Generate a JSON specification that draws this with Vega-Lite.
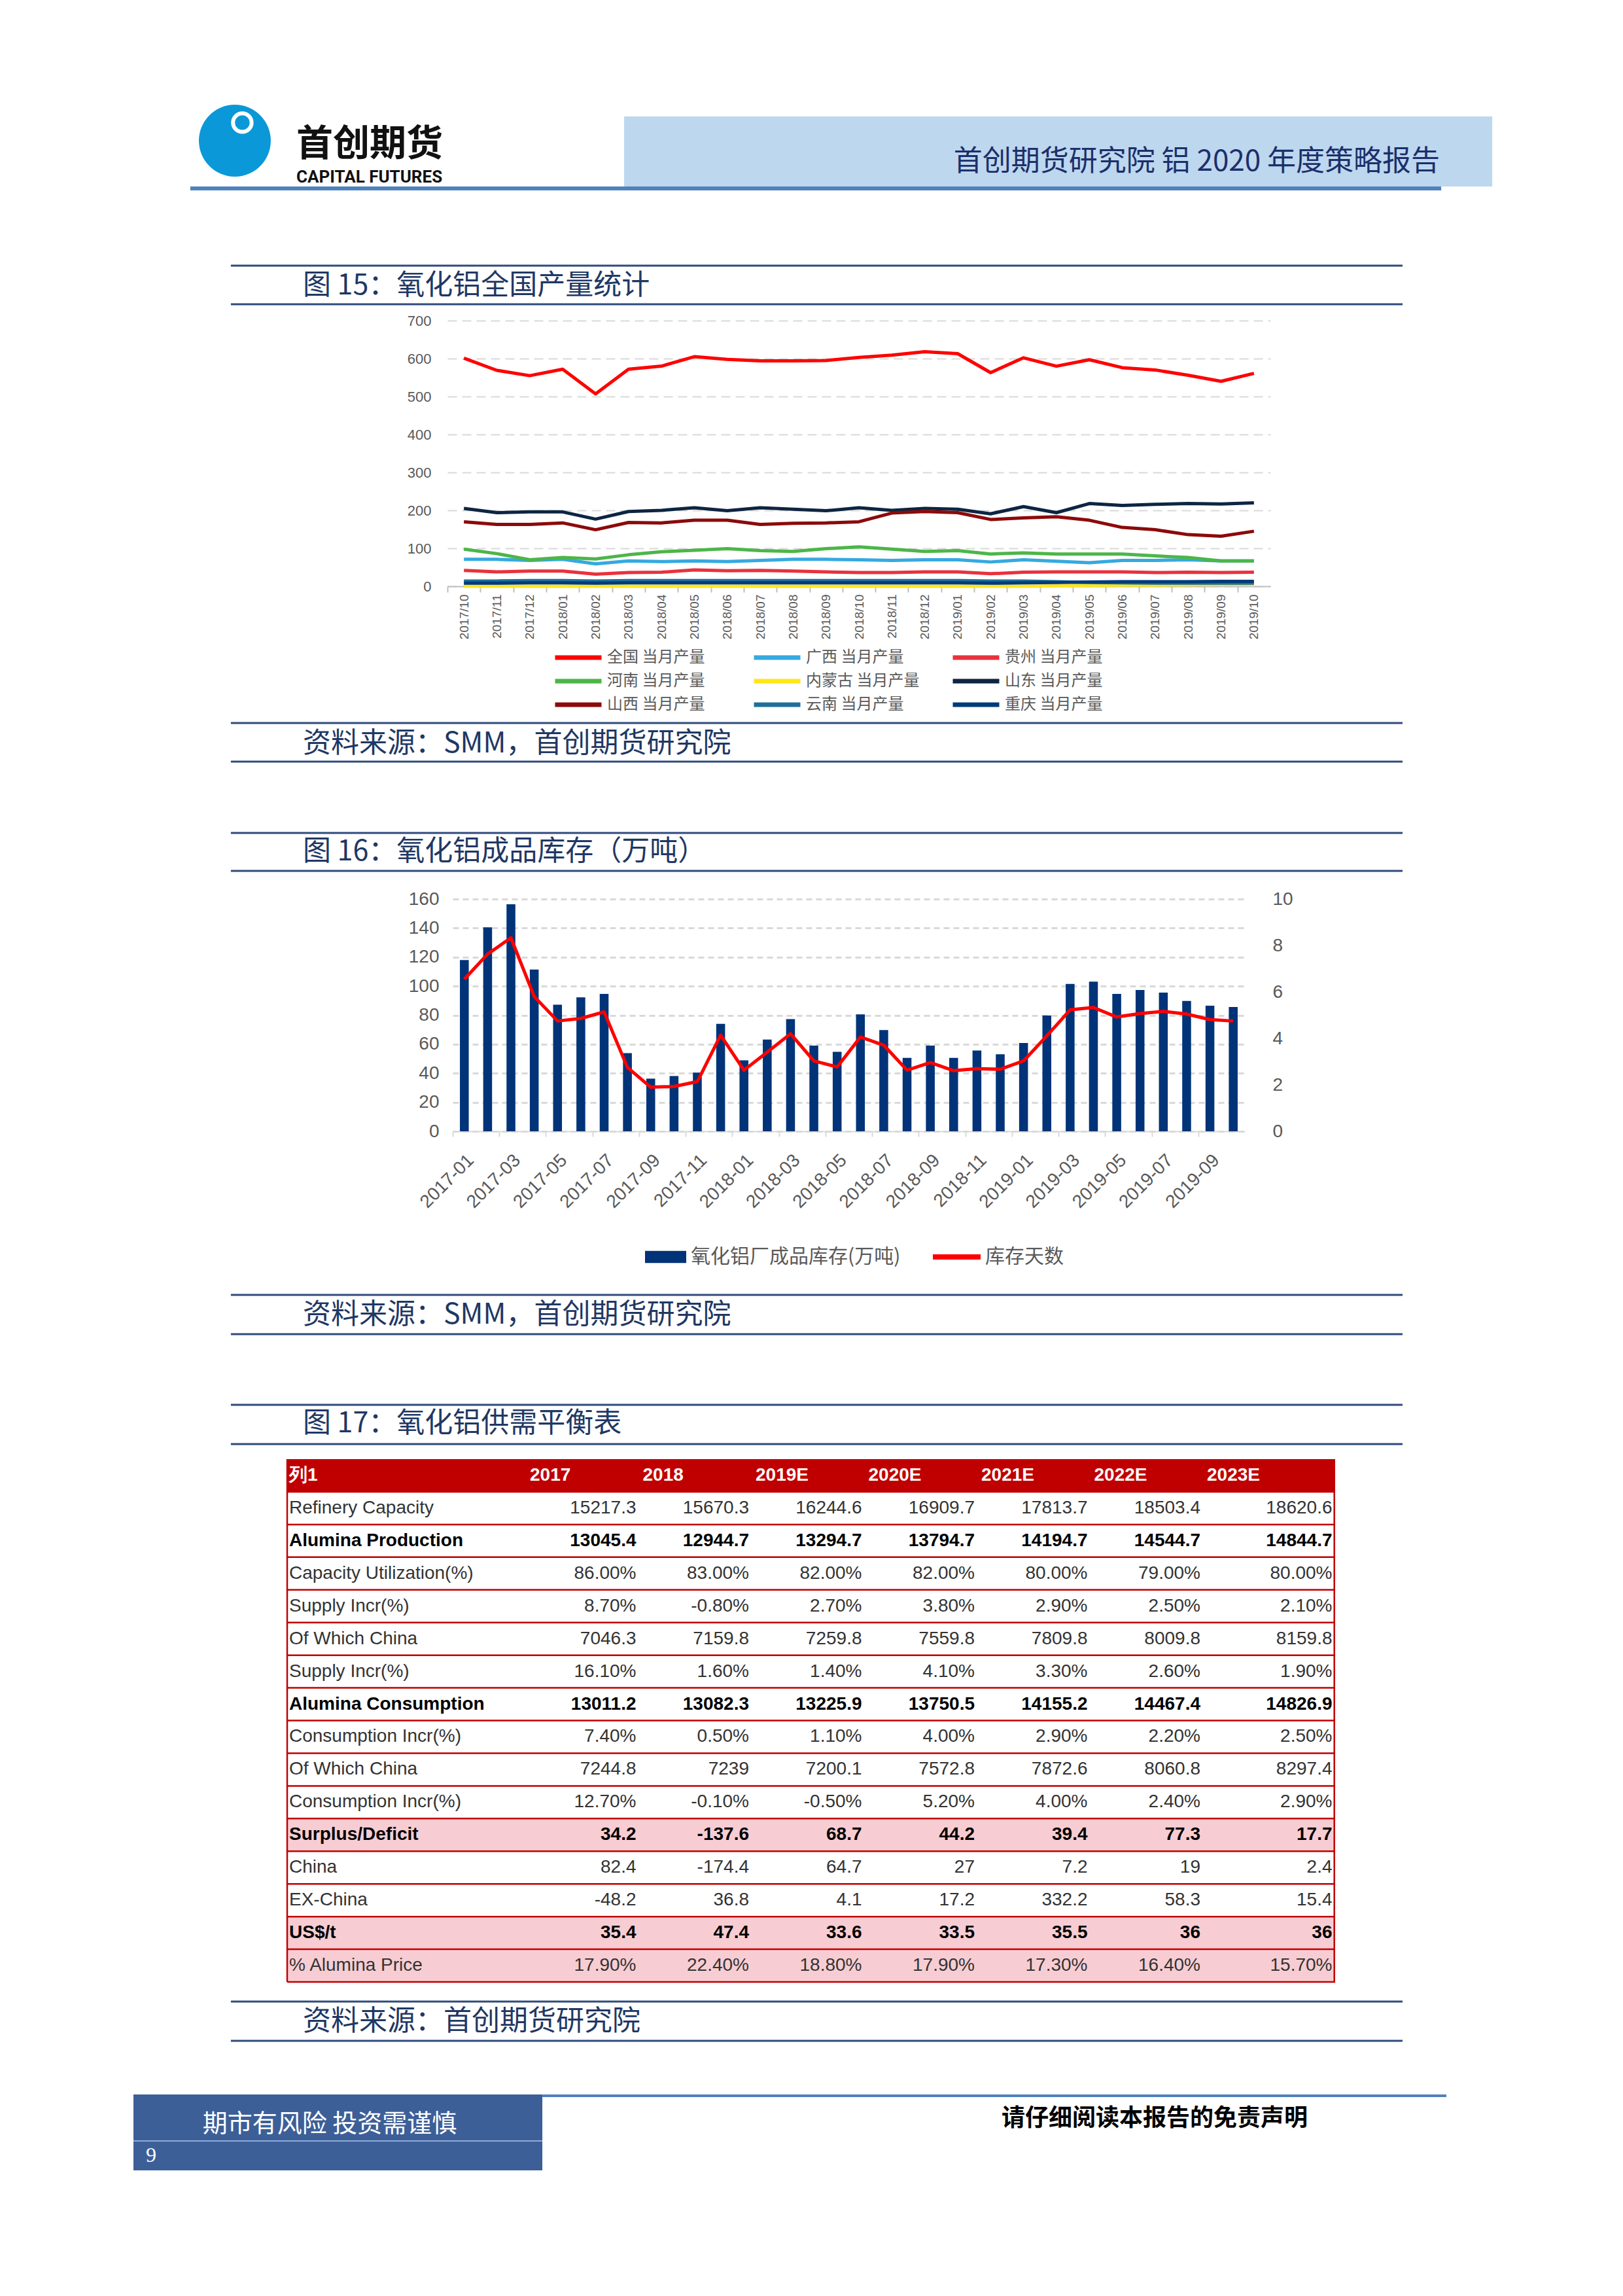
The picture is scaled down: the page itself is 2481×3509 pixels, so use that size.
{
  "$schema": "https://vega.github.io/schema/vega-lite/v6.json",
  "background": "white",
  "padding": {"left": 203, "top": 150, "right": 0, "bottom": 0},
  "bounds": "flush",
  "spacing": 0,
  "resolve": {"scale": {"color": "independent", "stroke": "independent", "x": "independent", "y": "independent"}},
  "config": {
    "view": {"stroke": null},
    "text": {"font": "Noto Sans CJK SC"}
  },
  "vconcat": [
    {
      "width": 2080, "height": 340,
      "data": {"values": [{"k": 1}]},
      "layer": [
        {"mark": {"type": "rect", "color": "#bdd7ee"}, "encoding": {"x": {"datum": 0.3606, "type": "quantitative", "scale": {"domain": [0, 1], "nice": false, "zero": false}, "axis": null}, "x2": {"datum": 0.9986}, "y": {"datum": 0.0824, "type": "quantitative", "scale": {"domain": [0, 1], "nice": false, "zero": false, "reverse": true}, "axis": null}, "y2": {"datum": 0.3971}}},
        {"mark": {"type": "rule", "color": "#4f81bd", "strokeWidth": 6}, "encoding": {"x": {"datum": 0.0418, "type": "quantitative", "scale": {"domain": [0, 1], "nice": false, "zero": false}, "axis": null}, "x2": {"datum": 0.9611}, "y": {"datum": 0.4059, "type": "quantitative", "scale": {"domain": [0, 1], "nice": false, "zero": false, "reverse": true}, "axis": null}}},
        {"mark": {"type": "point", "shape": "circle", "filled": true, "color": "#0b98d8", "opacity": 1, "size": 12076}, "encoding": {"x": {"datum": 0.0745, "type": "quantitative", "scale": {"domain": [0, 1], "nice": false, "zero": false}, "axis": null}, "y": {"datum": 0.1912, "type": "quantitative", "scale": {"domain": [0, 1], "nice": false, "zero": false, "reverse": true}, "axis": null}}},
        {"mark": {"type": "point", "shape": "circle", "filled": false, "color": "#ffffff", "opacity": 1, "strokeWidth": 6, "size": 804}, "encoding": {"x": {"datum": 0.0800, "type": "quantitative", "scale": {"domain": [0, 1], "nice": false, "zero": false}, "axis": null}, "y": {"datum": 0.1100, "type": "quantitative", "scale": {"domain": [0, 1], "nice": false, "zero": false, "reverse": true}, "axis": null}}},
        {"mark": {"type": "text", "align": "left", "baseline": "middle", "font": "Noto Sans CJK SC", "fontSize": 56, "fontWeight": "bold", "color": "#111111"}, "encoding": {"x": {"datum": 0.1197, "type": "quantitative", "scale": {"domain": [0, 1], "nice": false, "zero": false}, "axis": null}, "y": {"datum": 0.2088, "type": "quantitative", "scale": {"domain": [0, 1], "nice": false, "zero": false, "reverse": true}, "axis": null}, "text": {"value": "首创期货"}}},
        {"mark": {"type": "text", "align": "left", "baseline": "middle", "font": "Roboto", "fontSize": 26, "fontWeight": "bold", "color": "#111111"}, "encoding": {"x": {"datum": 0.1197, "type": "quantitative", "scale": {"domain": [0, 1], "nice": false, "zero": false}, "axis": null}, "y": {"datum": 0.3559, "type": "quantitative", "scale": {"domain": [0, 1], "nice": false, "zero": false, "reverse": true}, "axis": null}, "text": {"value": "CAPITAL FUTURES"}}},
        {"mark": {"type": "text", "align": "right", "baseline": "middle", "font": "Noto Sans CJK SC", "fontSize": 44, "color": "#1c2f6b"}, "encoding": {"x": {"datum": 0.9601, "type": "quantitative", "scale": {"domain": [0, 1], "nice": false, "zero": false}, "axis": null}, "y": {"datum": 0.2882, "type": "quantitative", "scale": {"domain": [0, 1], "nice": false, "zero": false, "reverse": true}, "axis": null}, "text": {"value": "首创期货研究院 铝 2020 年度策略报告"}}},
        {"mark": {"type": "rule", "color": "#2f4b7c", "strokeWidth": 3}, "encoding": {"x": {"datum": 0.0716, "type": "quantitative", "scale": {"domain": [0, 1], "nice": false, "zero": false}, "axis": null}, "x2": {"datum": 0.9327}, "y": {"datum": 0.7529, "type": "quantitative", "scale": {"domain": [0, 1], "nice": false, "zero": false, "reverse": true}, "axis": null}}},
        {"mark": {"type": "rule", "color": "#2f4b7c", "strokeWidth": 3}, "encoding": {"x": {"datum": 0.0716, "type": "quantitative", "scale": {"domain": [0, 1], "nice": false, "zero": false}, "axis": null}, "x2": {"datum": 0.9327}, "y": {"datum": 0.9265, "type": "quantitative", "scale": {"domain": [0, 1], "nice": false, "zero": false, "reverse": true}, "axis": null}}},
        {"mark": {"type": "text", "align": "left", "baseline": "middle", "font": "Noto Sans CJK SC", "fontSize": 43, "color": "#1f3864"}, "encoding": {"x": {"datum": 0.1245, "type": "quantitative", "scale": {"domain": [0, 1], "nice": false, "zero": false}, "axis": null}, "y": {"datum": 0.8441, "type": "quantitative", "scale": {"domain": [0, 1], "nice": false, "zero": false, "reverse": true}, "axis": null}, "text": {"value": "图 15：氧化铝全国产量统计"}}}
      ]
    },
    {
      "width": 1738, "height": 406,
      "data": {"values": [
        {"month": "2017/10", "全国 当月产量": 601, "广西 当月产量": 71, "贵州 当月产量": 42, "河南 当月产量": 98, "内蒙古 当月产量": 0, "山东 当月产量": 205, "山西 当月产量": 170, "云南 当月产量": 14, "重庆 当月产量": 8},
        {"month": "2017/11", "全国 当月产量": 569, "广西 当月产量": 71, "贵州 当月产量": 38, "河南 当月产量": 86, "内蒙古 当月产量": 0, "山东 当月产量": 194, "山西 当月产量": 163, "云南 当月产量": 14, "重庆 当月产量": 8},
        {"month": "2017/12", "全国 当月产量": 555, "广西 当月产量": 68, "贵州 当月产量": 40, "河南 当月产量": 70, "内蒙古 当月产量": 0, "山东 当月产量": 196, "山西 当月产量": 163, "云南 当月产量": 15, "重庆 当月产量": 9},
        {"month": "2018/01", "全国 当月产量": 572, "广西 当月产量": 71, "贵州 当月产量": 40, "河南 当月产量": 76, "内蒙古 当月产量": 0, "山东 当月产量": 196, "山西 当月产量": 167, "云南 当月产量": 15, "重庆 当月产量": 9},
        {"month": "2018/02", "全国 当月产量": 507, "广西 当月产量": 59, "贵州 当月产量": 32, "河南 当月产量": 72, "内蒙古 当月产量": 0, "山东 当月产量": 177, "山西 当月产量": 149, "云南 当月产量": 14, "重庆 当月产量": 8},
        {"month": "2018/03", "全国 当月产量": 572, "广西 当月产量": 67, "贵州 当月产量": 36, "河南 当月产量": 83, "内蒙古 当月产量": 0, "山东 当月产量": 197, "山西 当月产量": 168, "云南 当月产量": 15, "重庆 当月产量": 9},
        {"month": "2018/04", "全国 当月产量": 580, "广西 当月产量": 65, "贵州 当月产量": 37, "河南 当月产量": 91, "内蒙古 当月产量": 0, "山东 当月产量": 200, "山西 当月产量": 167, "云南 当月产量": 15, "重庆 当月产量": 9},
        {"month": "2018/05", "全国 当月产量": 605, "广西 当月产量": 67, "贵州 当月产量": 43, "河南 当月产量": 95, "内蒙古 当月产量": 0, "山东 当月产量": 207, "山西 当月产量": 174, "云南 当月产量": 15, "重庆 当月产量": 9},
        {"month": "2018/06", "全国 当月产量": 598, "广西 当月产量": 65, "贵州 当月产量": 41, "河南 当月产量": 99, "内蒙古 当月产量": 0, "山东 当月产量": 199, "山西 当月产量": 174, "云南 当月产量": 15, "重庆 当月产量": 9},
        {"month": "2018/07", "全国 当月产量": 594, "广西 当月产量": 68, "贵州 当月产量": 42, "河南 当月产量": 94, "内蒙古 当月产量": 0, "山东 当月产量": 207, "山西 当月产量": 163, "云南 当月产量": 15, "重庆 当月产量": 9},
        {"month": "2018/08", "全国 当月产量": 594, "广西 当月产量": 71, "贵州 当月产量": 40, "河南 当月产量": 92, "内蒙古 当月产量": 0, "山东 当月产量": 203, "山西 当月产量": 166, "云南 当月产量": 15, "重庆 当月产量": 9},
        {"month": "2018/09", "全国 当月产量": 595, "广西 当月产量": 71, "贵州 当月产量": 38, "河南 当月产量": 99, "内蒙古 当月产量": 0, "山东 当月产量": 199, "山西 当月产量": 167, "云南 当月产量": 15, "重庆 当月产量": 9},
        {"month": "2018/10", "全国 当月产量": 603, "广西 当月产量": 70, "贵州 当月产量": 36, "河南 当月产量": 104, "内蒙古 当月产量": 0, "山东 当月产量": 207, "山西 当月产量": 170, "云南 当月产量": 15, "重庆 当月产量": 9},
        {"month": "2018/11", "全国 当月产量": 609, "广西 当月产量": 68, "贵州 当月产量": 36, "河南 当月产量": 98, "内蒙古 当月产量": 0, "山东 当月产量": 200, "山西 当月产量": 193, "云南 当月产量": 15, "重庆 当月产量": 9},
        {"month": "2018/12", "全国 当月产量": 618, "广西 当月产量": 70, "贵州 当月产量": 38, "河南 当月产量": 92, "内蒙古 当月产量": 0, "山东 当月产量": 205, "山西 当月产量": 197, "云南 当月产量": 15, "重庆 当月产量": 9},
        {"month": "2019/01", "全国 当月产量": 613, "广西 当月产量": 70, "贵州 当月产量": 38, "河南 当月产量": 94, "内蒙古 当月产量": 0, "山东 当月产量": 203, "山西 当月产量": 194, "云南 当月产量": 15, "重庆 当月产量": 9},
        {"month": "2019/02", "全国 当月产量": 563, "广西 当月产量": 64, "贵州 当月产量": 33, "河南 当月产量": 85, "内蒙古 当月产量": 0, "山东 当月产量": 191, "山西 当月产量": 176, "云南 当月产量": 14, "重庆 当月产量": 8},
        {"month": "2019/03", "全国 当月产量": 602, "广西 当月产量": 70, "贵州 当月产量": 37, "河南 当月产量": 88, "内蒙古 当月产量": 0, "山东 当月产量": 210, "山西 当月产量": 180, "云南 当月产量": 14, "重庆 当月产量": 9},
        {"month": "2019/04", "全国 当月产量": 580, "广西 当月产量": 66, "贵州 当月产量": 38, "河南 当月产量": 85, "内蒙古 当月产量": 1, "山东 当月产量": 194, "山西 当月产量": 183, "云南 当月产量": 12, "重庆 当月产量": 10},
        {"month": "2019/05", "全国 当月产量": 597, "广西 当月产量": 62, "贵州 当月产量": 38, "河南 当月产量": 85, "内蒙古 当月产量": 2, "山东 当月产量": 218, "山西 当月产量": 174, "云南 当月产量": 10, "重庆 当月产量": 11},
        {"month": "2019/06", "全国 当月产量": 576, "广西 当月产量": 68, "贵州 当月产量": 38, "河南 当月产量": 85, "内蒙古 当月产量": 3, "山东 当月产量": 213, "山西 当月产量": 155, "云南 当月产量": 9, "重庆 当月产量": 12},
        {"month": "2019/07", "全国 当月产量": 570, "广西 当月产量": 68, "贵州 当月产量": 36, "河南 当月产量": 80, "内蒙古 当月产量": 3, "山东 当月产量": 216, "山西 当月产量": 149, "云南 当月产量": 8, "重庆 当月产量": 12},
        {"month": "2019/08", "全国 当月产量": 556, "广西 当月产量": 70, "贵州 当月产量": 37, "河南 当月产量": 76, "内蒙古 当月产量": 4, "山东 当月产量": 218, "山西 当月产量": 136, "云南 当月产量": 8, "重庆 当月产量": 12},
        {"month": "2019/09", "全国 当月产量": 540, "广西 当月产量": 67, "贵州 当月产量": 36, "河南 当月产量": 67, "内蒙古 当月产量": 5, "山东 当月产量": 217, "山西 当月产量": 132, "云南 当月产量": 8, "重庆 当月产量": 13},
        {"month": "2019/10", "全国 当月产量": 561, "广西 当月产量": 67, "贵州 当月产量": 37, "河南 当月产量": 67, "内蒙古 当月产量": 6, "山东 当月产量": 220, "山西 当月产量": 145, "云南 当月产量": 8, "重庆 当月产量": 13}
      ]},
      "transform": [{"fold": ["全国 当月产量", "广西 当月产量", "贵州 当月产量", "河南 当月产量", "内蒙古 当月产量", "山东 当月产量", "山西 当月产量", "云南 当月产量", "重庆 当月产量"], "as": ["series", "value"]}],
      "mark": {"type": "line", "strokeWidth": 5, "strokeJoin": "round"},
      "encoding": {
        "x": {"field": "month", "type": "ordinal", "bandPosition": 0.5, "scale": {"type": "band", "range": [480, 1738], "paddingInner": 0, "paddingOuter": 0},
          "axis": {"title": null, "labelAngle": 270, "labelFontSize": 19, "labelFont": "Liberation Sans", "labelColor": "#595959", "labelPadding": 3, "bandPosition": 0.5, "tickOffset": -25.16, "labelOffset": 25.16, "tickSize": 9, "tickWidth": 2, "tickColor": "#bfbfbf", "domainColor": "#bfbfbf", "domainWidth": 2, "grid": false}},
        "y": {"field": "value", "type": "quantitative", "scale": {"domain": [0, 700], "nice": false},
          "axis": {"title": null, "offset": -480, "values": [0, 100, 200, 300, 400, 500, 600, 700], "grid": true, "gridDash": [14, 8], "gridColor": "#d9d9d9", "gridWidth": 2, "domain": false, "ticks": false, "labelFontSize": 22, "labelFont": "Liberation Sans", "labelColor": "#595959", "labelPadding": 25}},
        "color": {"field": "series", "type": "nominal",
          "scale": {"domain": ["全国 当月产量", "广西 当月产量", "贵州 当月产量", "河南 当月产量", "内蒙古 当月产量", "山东 当月产量", "山西 当月产量", "云南 当月产量", "重庆 当月产量"],
                    "range": ["#ff0000", "#35a9e0", "#e8323c", "#4cb648", "#ffe61a", "#0d2541", "#8c0a0a", "#1f6f99", "#003a7a"]},
          "legend": {"title": null, "orient": "none", "direction": "horizontal", "legendX": 641, "legendY": 503, "columns": 3, "gridAlign": "all", "columnPadding": 47, "rowPadding": 12, "clipHeight": 24, "padding": 0, "symbolType": "stroke", "symbolSize": 5041, "symbolStrokeWidth": 7, "labelOffset": 5, "labelFontSize": 24, "labelFont": "Noto Sans CJK SC", "labelColor": "#595959", "labelLimit": 0}}
      }
    },
    {
      "width": 2080, "height": 478,
      "data": {"values": [{"k": 1}]},
      "layer": [
        {"mark": {"type": "rule", "color": "#2f4b7c", "strokeWidth": 3}, "encoding": {"x": {"datum": 0.0716, "type": "quantitative", "scale": {"domain": [0, 1], "nice": false, "zero": false}, "axis": null}, "x2": {"datum": 0.9327}, "y": {"datum": 0.4372, "type": "quantitative", "scale": {"domain": [0, 1], "nice": false, "zero": false, "reverse": true}, "axis": null}}},
        {"mark": {"type": "rule", "color": "#2f4b7c", "strokeWidth": 3}, "encoding": {"x": {"datum": 0.0716, "type": "quantitative", "scale": {"domain": [0, 1], "nice": false, "zero": false}, "axis": null}, "x2": {"datum": 0.9327}, "y": {"datum": 0.5607, "type": "quantitative", "scale": {"domain": [0, 1], "nice": false, "zero": false, "reverse": true}, "axis": null}}},
        {"mark": {"type": "text", "align": "left", "baseline": "middle", "font": "Noto Sans CJK SC", "fontSize": 43, "color": "#1f3864"}, "encoding": {"x": {"datum": 0.1245, "type": "quantitative", "scale": {"domain": [0, 1], "nice": false, "zero": false}, "axis": null}, "y": {"datum": 0.5042, "type": "quantitative", "scale": {"domain": [0, 1], "nice": false, "zero": false, "reverse": true}, "axis": null}, "text": {"value": "资料来源：SMM，首创期货研究院"}}},
        {"mark": {"type": "rule", "color": "#2f4b7c", "strokeWidth": 3}, "encoding": {"x": {"datum": 0.0716, "type": "quantitative", "scale": {"domain": [0, 1], "nice": false, "zero": false}, "axis": null}, "x2": {"datum": 0.9327}, "y": {"datum": 0.7887, "type": "quantitative", "scale": {"domain": [0, 1], "nice": false, "zero": false, "reverse": true}, "axis": null}}},
        {"mark": {"type": "rule", "color": "#2f4b7c", "strokeWidth": 3}, "encoding": {"x": {"datum": 0.0716, "type": "quantitative", "scale": {"domain": [0, 1], "nice": false, "zero": false}, "axis": null}, "x2": {"datum": 0.9327}, "y": {"datum": 0.9100, "type": "quantitative", "scale": {"domain": [0, 1], "nice": false, "zero": false, "reverse": true}, "axis": null}}},
        {"mark": {"type": "text", "align": "left", "baseline": "middle", "font": "Noto Sans CJK SC", "fontSize": 43, "color": "#1f3864"}, "encoding": {"x": {"datum": 0.1245, "type": "quantitative", "scale": {"domain": [0, 1], "nice": false, "zero": false}, "axis": null}, "y": {"datum": 0.8494, "type": "quantitative", "scale": {"domain": [0, 1], "nice": false, "zero": false, "reverse": true}, "axis": null}, "text": {"value": "图 16：氧化铝成品库存（万吨）"}}}
      ]
    },
    {
      "width": 1699, "height": 355,
      "data": {"values": [
        {"month": "2017-01", "stock": 118.0, "days": 6.55},
        {"month": "2017-02", "stock": 140.5, "days": 7.63},
        {"month": "2017-03", "stock": 156.4, "days": 8.33},
        {"month": "2017-04", "stock": 111.4, "days": 5.80},
        {"month": "2017-05", "stock": 87.2, "days": 4.75},
        {"month": "2017-06", "stock": 92.3, "days": 4.86},
        {"month": "2017-07", "stock": 94.7, "days": 5.14},
        {"month": "2017-08", "stock": 53.9, "days": 2.75},
        {"month": "2017-09", "stock": 36.3, "days": 1.90},
        {"month": "2017-10", "stock": 38.1, "days": 1.93},
        {"month": "2017-11", "stock": 40.5, "days": 2.14},
        {"month": "2017-12", "stock": 74.0, "days": 4.14},
        {"month": "2018-01", "stock": 48.9, "days": 2.63},
        {"month": "2018-02", "stock": 63.2, "days": 3.41},
        {"month": "2018-03", "stock": 77.3, "days": 4.20},
        {"month": "2018-04", "stock": 59.0, "days": 3.03},
        {"month": "2018-05", "stock": 54.8, "days": 2.77},
        {"month": "2018-06", "stock": 80.6, "days": 4.06},
        {"month": "2018-07", "stock": 69.8, "days": 3.71},
        {"month": "2018-08", "stock": 50.6, "days": 2.63},
        {"month": "2018-09", "stock": 59.0, "days": 2.96},
        {"month": "2018-10", "stock": 50.6, "days": 2.61},
        {"month": "2018-11", "stock": 55.7, "days": 2.70},
        {"month": "2018-12", "stock": 53.1, "days": 2.67},
        {"month": "2019-01", "stock": 60.8, "days": 3.03},
        {"month": "2019-02", "stock": 79.8, "days": 4.11},
        {"month": "2019-03", "stock": 101.5, "days": 5.23},
        {"month": "2019-04", "stock": 103.1, "days": 5.33},
        {"month": "2019-05", "stock": 94.7, "days": 4.92},
        {"month": "2019-06", "stock": 97.3, "days": 5.07},
        {"month": "2019-07", "stock": 95.6, "days": 5.16},
        {"month": "2019-08", "stock": 89.8, "days": 5.05},
        {"month": "2019-09", "stock": 86.5, "days": 4.81},
        {"month": "2019-10", "stock": 85.6, "days": 4.75}
      ]},
      "encoding": {
        "x": {"field": "month", "type": "ordinal", "scale": {"type": "band", "range": [488, 1699], "paddingInner": 0.62, "paddingOuter": 0.31},
          "axis": {"title": null, "values": ["2017-01", "2017-03", "2017-05", "2017-07", "2017-09", "2017-11", "2018-01", "2018-03", "2018-05", "2018-07", "2018-09", "2018-11", "2019-01", "2019-03", "2019-05", "2019-07", "2019-09"],
            "labelAngle": -45, "labelFontSize": 28, "labelFont": "Liberation Sans", "labelColor": "#595959", "labelPadding": 22, "bandPosition": 0.5, "tickOffset": -17.81, "labelOffset": 17.81, "tickSize": 8, "tickWidth": 2, "tickColor": "#d9d9d9", "domainColor": "#d9d9d9", "domainWidth": 2, "grid": false}}
      },
      "layer": [
        {
          "mark": {"type": "bar"},
          "encoding": {
            "y": {"field": "stock", "type": "quantitative", "scale": {"domain": [0, 160], "nice": false},
              "axis": {"title": null, "offset": -488, "values": [0, 20, 40, 60, 80, 100, 120, 140, 160], "grid": true, "gridDash": [9, 6], "gridColor": "#d9d9d9", "gridWidth": 3, "domain": false, "ticks": false, "labelFontSize": 28, "labelFont": "Liberation Sans", "labelColor": "#595959", "labelPadding": 21}},
            "color": {"datum": "氧化铝厂成品库存(万吨)", "type": "nominal", "scale": {"range": ["#003378"]},
              "legend": {"title": null, "orient": "none", "legendX": 782, "legendY": 532, "clipHeight": 30, "padding": 0, "symbolType": "M-1,-0.29L1,-0.29L1,0.29L-1,0.29Z", "symbolSize": 3969, "symbolStrokeWidth": 0, "symbolOpacity": 1, "labelOffset": 7, "labelFontSize": 30, "labelFont": "Noto Sans CJK SC", "labelColor": "#595959", "labelLimit": 0}}
          }
        },
        {
          "mark": {"type": "line", "strokeWidth": 5, "strokeJoin": "round"},
          "encoding": {
            "y": {"field": "days", "type": "quantitative", "scale": {"domain": [0, 10], "nice": false},
              "axis": {"title": null, "orient": "right", "values": [0, 2, 4, 6, 8, 10], "grid": false, "domain": false, "ticks": false, "labelFontSize": 28, "labelFont": "Liberation Sans", "labelColor": "#595959", "labelPadding": 42}},
            "stroke": {"datum": "库存天数", "type": "nominal", "scale": {"range": ["#ff0000"]},
              "legend": {"title": null, "orient": "none", "legendX": 1218, "legendY": 532, "clipHeight": 30, "padding": 0, "symbolType": "stroke", "symbolSize": 5329, "symbolStrokeWidth": 8, "labelOffset": 3, "labelFontSize": 30, "labelFont": "Noto Sans CJK SC", "labelColor": "#595959", "labelLimit": 0}}
          }
        }
      ],
      "resolve": {"scale": {"y": "independent"}}
    },
    {
      "width": 2080, "height": 501,
      "data": {"values": [{"k": 1}]},
      "layer": [
        {"mark": {"type": "rule", "color": "#2f4b7c", "strokeWidth": 3}, "encoding": {"x": {"datum": 0.0716, "type": "quantitative", "scale": {"domain": [0, 1], "nice": false, "zero": false}, "axis": null}, "x2": {"datum": 0.9327}, "y": {"datum": 0.4990, "type": "quantitative", "scale": {"domain": [0, 1], "nice": false, "zero": false, "reverse": true}, "axis": null}}},
        {"mark": {"type": "rule", "color": "#2f4b7c", "strokeWidth": 3}, "encoding": {"x": {"datum": 0.0716, "type": "quantitative", "scale": {"domain": [0, 1], "nice": false, "zero": false}, "axis": null}, "x2": {"datum": 0.9327}, "y": {"datum": 0.6188, "type": "quantitative", "scale": {"domain": [0, 1], "nice": false, "zero": false, "reverse": true}, "axis": null}}},
        {"mark": {"type": "text", "align": "left", "baseline": "middle", "font": "Noto Sans CJK SC", "fontSize": 43, "color": "#1f3864"}, "encoding": {"x": {"datum": 0.1245, "type": "quantitative", "scale": {"domain": [0, 1], "nice": false, "zero": false}, "axis": null}, "y": {"datum": 0.5609, "type": "quantitative", "scale": {"domain": [0, 1], "nice": false, "zero": false, "reverse": true}, "axis": null}, "text": {"value": "资料来源：SMM，首创期货研究院"}}},
        {"mark": {"type": "rule", "color": "#2f4b7c", "strokeWidth": 3}, "encoding": {"x": {"datum": 0.0716, "type": "quantitative", "scale": {"domain": [0, 1], "nice": false, "zero": false}, "axis": null}, "x2": {"datum": 0.9327}, "y": {"datum": 0.8343, "type": "quantitative", "scale": {"domain": [0, 1], "nice": false, "zero": false, "reverse": true}, "axis": null}}},
        {"mark": {"type": "rule", "color": "#2f4b7c", "strokeWidth": 3}, "encoding": {"x": {"datum": 0.0716, "type": "quantitative", "scale": {"domain": [0, 1], "nice": false, "zero": false}, "axis": null}, "x2": {"datum": 0.9327}, "y": {"datum": 0.9541, "type": "quantitative", "scale": {"domain": [0, 1], "nice": false, "zero": false, "reverse": true}, "axis": null}}},
        {"mark": {"type": "text", "align": "left", "baseline": "middle", "font": "Noto Sans CJK SC", "fontSize": 43, "color": "#1f3864"}, "encoding": {"x": {"datum": 0.1245, "type": "quantitative", "scale": {"domain": [0, 1], "nice": false, "zero": false}, "axis": null}, "y": {"datum": 0.8922, "type": "quantitative", "scale": {"domain": [0, 1], "nice": false, "zero": false, "reverse": true}, "axis": null}, "text": {"value": "图 17：氧化铝供需平衡表"}}}
      ]
    },
    {
      "width": 1837, "height": 799,
      "data": {"values": [
        {"r": 0, "item": "列1", "2017": "2017", "2018": "2018", "2019E": "2019E", "2020E": "2020E", "2021E": "2021E", "2022E": "2022E", "2023E": "2023E"},
        {"r": 1, "item": "Refinery Capacity", "2017": "15217.3", "2018": "15670.3", "2019E": "16244.6", "2020E": "16909.7", "2021E": "17813.7", "2022E": "18503.4", "2023E": "18620.6"},
        {"r": 2, "item": "Alumina Production", "2017": "13045.4", "2018": "12944.7", "2019E": "13294.7", "2020E": "13794.7", "2021E": "14194.7", "2022E": "14544.7", "2023E": "14844.7"},
        {"r": 3, "item": "Capacity Utilization(%)", "2017": "86.00%", "2018": "83.00%", "2019E": "82.00%", "2020E": "82.00%", "2021E": "80.00%", "2022E": "79.00%", "2023E": "80.00%"},
        {"r": 4, "item": "Supply Incr(%)", "2017": "8.70%", "2018": "-0.80%", "2019E": "2.70%", "2020E": "3.80%", "2021E": "2.90%", "2022E": "2.50%", "2023E": "2.10%"},
        {"r": 5, "item": "Of Which China", "2017": "7046.3", "2018": "7159.8", "2019E": "7259.8", "2020E": "7559.8", "2021E": "7809.8", "2022E": "8009.8", "2023E": "8159.8"},
        {"r": 6, "item": "Supply Incr(%)", "2017": "16.10%", "2018": "1.60%", "2019E": "1.40%", "2020E": "4.10%", "2021E": "3.30%", "2022E": "2.60%", "2023E": "1.90%"},
        {"r": 7, "item": "Alumina Consumption", "2017": "13011.2", "2018": "13082.3", "2019E": "13225.9", "2020E": "13750.5", "2021E": "14155.2", "2022E": "14467.4", "2023E": "14826.9"},
        {"r": 8, "item": "Consumption Incr(%)", "2017": "7.40%", "2018": "0.50%", "2019E": "1.10%", "2020E": "4.00%", "2021E": "2.90%", "2022E": "2.20%", "2023E": "2.50%"},
        {"r": 9, "item": "Of Which China", "2017": "7244.8", "2018": "7239", "2019E": "7200.1", "2020E": "7572.8", "2021E": "7872.6", "2022E": "8060.8", "2023E": "8297.4"},
        {"r": 10, "item": "Consumption Incr(%)", "2017": "12.70%", "2018": "-0.10%", "2019E": "-0.50%", "2020E": "5.20%", "2021E": "4.00%", "2022E": "2.40%", "2023E": "2.90%"},
        {"r": 11, "item": "Surplus/Deficit", "2017": "34.2", "2018": "-137.6", "2019E": "68.7", "2020E": "44.2", "2021E": "39.4", "2022E": "77.3", "2023E": "17.7"},
        {"r": 12, "item": "China", "2017": "82.4", "2018": "-174.4", "2019E": "64.7", "2020E": "27", "2021E": "7.2", "2022E": "19", "2023E": "2.4"},
        {"r": 13, "item": "EX-China", "2017": "-48.2", "2018": "36.8", "2019E": "4.1", "2020E": "17.2", "2021E": "332.2", "2022E": "58.3", "2023E": "15.4"},
        {"r": 14, "item": "US$/t", "2017": "35.4", "2018": "47.4", "2019E": "33.6", "2020E": "33.5", "2021E": "35.5", "2022E": "36", "2023E": "36"},
        {"r": 15, "item": "% Alumina Price", "2017": "17.90%", "2018": "22.40%", "2019E": "18.80%", "2020E": "17.90%", "2021E": "17.30%", "2022E": "16.40%", "2023E": "15.70%"}
      ]},
      "layer": [
        {
          "layer": [
            {"transform": [{"filter": "datum.r === 0"}], "mark": {"type": "rect", "color": "#c00000"},
              "encoding": {"x": {"datum": 0.12793, "type": "quantitative", "scale": {"domain": [0, 1], "nice": false, "zero": false}, "axis": null}, "x2": {"datum": 1},
                "y": {"field": "r", "type": "ordinal", "scale": {"domain": [0, 1, 2, 3, 4, 5, 6, 7, 8, 9, 10, 11, 12, 13, 14, 15], "paddingInner": 0, "paddingOuter": 0}, "axis": null}}},
            {"transform": [{"filter": "datum.r === 11 || datum.r === 14 || datum.r === 15"}], "mark": {"type": "rect", "color": "#f7cdd3"},
              "encoding": {"x": {"datum": 0.12793, "type": "quantitative", "scale": {"domain": [0, 1], "nice": false, "zero": false}, "axis": null}, "x2": {"datum": 1},
                "y": {"field": "r", "type": "ordinal", "axis": null}}},
            {"transform": [{"filter": "datum.r >= 1"}], "mark": {"type": "rule", "color": "#c00000", "strokeWidth": 2.5},
              "encoding": {"x": {"datum": 0.12793, "type": "quantitative", "scale": {"domain": [0, 1], "nice": false, "zero": false}, "axis": null}, "x2": {"datum": 1},
                "y": {"field": "r", "type": "ordinal", "bandPosition": 0, "axis": null}}},
            {"transform": [{"filter": "datum.r === 15"}], "mark": {"type": "rule", "color": "#c00000", "strokeWidth": 2.5},
              "encoding": {"x": {"datum": 0.12793, "type": "quantitative", "scale": {"domain": [0, 1], "nice": false, "zero": false}, "axis": null}, "x2": {"datum": 1},
                "y": {"field": "r", "type": "ordinal", "bandPosition": 1, "axis": null}}},
            {"transform": [{"filter": "datum.r === 0"}], "mark": {"type": "rule", "color": "#c00000", "strokeWidth": 2.5},
              "encoding": {"x": {"datum": 0.12793, "type": "quantitative", "scale": {"domain": [0, 1], "nice": false, "zero": false}, "axis": null}}},
            {"transform": [{"filter": "datum.r === 0"}], "mark": {"type": "rule", "color": "#c00000", "strokeWidth": 2.5},
              "encoding": {"x": {"datum": 0.9993, "type": "quantitative", "scale": {"domain": [0, 1], "nice": false, "zero": false}, "axis": null}}},
            {"transform": [{"filter": "datum.r === 0"}],
              "mark": {"type": "text", "align": "left", "baseline": "middle", "font": "Liberation Sans", "fontSize": 28, "fontWeight": "bold", "color": "#ffffff"},
              "encoding": {"x": {"datum": 0.12956, "type": "quantitative", "scale": {"domain": [0, 1], "nice": false, "zero": false}, "axis": null}, "y": {"field": "r", "type": "ordinal", "axis": null}, "text": {"field": "item"}}},
            {"transform": [{"filter": "datum.r === 2 || datum.r === 7 || datum.r === 11 || datum.r === 14"}],
              "mark": {"type": "text", "align": "left", "baseline": "middle", "font": "Liberation Sans", "fontSize": 28, "fontWeight": "bold", "color": "#000000"},
              "encoding": {"x": {"datum": 0.12956, "type": "quantitative", "scale": {"domain": [0, 1], "nice": false, "zero": false}, "axis": null}, "y": {"field": "r", "type": "ordinal", "axis": null}, "text": {"field": "item"}}},
            {"transform": [{"filter": "datum.r >= 1 && datum.r !== 2 && datum.r !== 7 && datum.r !== 11 && datum.r !== 14"}],
              "mark": {"type": "text", "align": "left", "baseline": "middle", "font": "Liberation Sans", "fontSize": 28, "color": "#333333"},
              "encoding": {"x": {"datum": 0.12956, "type": "quantitative", "scale": {"domain": [0, 1], "nice": false, "zero": false}, "axis": null}, "y": {"field": "r", "type": "ordinal", "axis": null}, "text": {"field": "item"}}}
          ]
        },
        {
          "layer": [
            {"transform": [{"filter": "datum.r === 0"}, {"fold": ["2017", "2018", "2019E", "2020E", "2021E", "2022E", "2023E"], "as": ["col", "val"]}],
              "mark": {"type": "text", "align": "left", "baseline": "middle", "dx": 4, "font": "Liberation Sans", "fontSize": 28, "fontWeight": "bold", "color": "#ffffff"},
              "encoding": {"x": {"field": "col", "type": "nominal", "bandPosition": 0, "scale": {"type": "band", "domain": ["2017", "2018", "2019E", "2020E", "2021E", "2022E", "2023E"], "range": [602, 1809.5], "paddingInner": 0, "paddingOuter": 0}, "axis": null},
                "y": {"field": "r", "type": "ordinal", "axis": null}, "text": {"field": "val"}}},
            {"transform": [{"filter": "datum.r >= 1 && datum.r !== 2 && datum.r !== 7 && datum.r !== 11 && datum.r !== 14"}, {"fold": ["2017", "2018", "2019E", "2020E", "2021E", "2022E"], "as": ["col", "val"]}],
              "mark": {"type": "text", "align": "right", "baseline": "middle", "dx": -6, "font": "Liberation Sans", "fontSize": 28, "color": "#333333"},
              "encoding": {"x": {"field": "col", "type": "nominal", "bandPosition": 1}, "y": {"field": "r", "type": "ordinal", "axis": null}, "text": {"field": "val"}}},
            {"transform": [{"filter": "datum.r >= 1 && datum.r !== 2 && datum.r !== 7 && datum.r !== 11 && datum.r !== 14"}, {"fold": ["2023E"], "as": ["col", "val"]}],
              "mark": {"type": "text", "align": "right", "baseline": "middle", "dx": 23, "font": "Liberation Sans", "fontSize": 28, "color": "#333333"},
              "encoding": {"x": {"field": "col", "type": "nominal", "bandPosition": 1}, "y": {"field": "r", "type": "ordinal", "axis": null}, "text": {"field": "val"}}},
            {"transform": [{"filter": "datum.r === 2 || datum.r === 7 || datum.r === 11 || datum.r === 14"}, {"fold": ["2017", "2018", "2019E", "2020E", "2021E", "2022E"], "as": ["col", "val"]}],
              "mark": {"type": "text", "align": "right", "baseline": "middle", "dx": -6, "font": "Liberation Sans", "fontSize": 28, "fontWeight": "bold", "color": "#000000"},
              "encoding": {"x": {"field": "col", "type": "nominal", "bandPosition": 1}, "y": {"field": "r", "type": "ordinal", "axis": null}, "text": {"field": "val"}}},
            {"transform": [{"filter": "datum.r === 2 || datum.r === 7 || datum.r === 11 || datum.r === 14"}, {"fold": ["2023E"], "as": ["col", "val"]}],
              "mark": {"type": "text", "align": "right", "baseline": "middle", "dx": 23, "font": "Liberation Sans", "fontSize": 28, "fontWeight": "bold", "color": "#000000"},
              "encoding": {"x": {"field": "col", "type": "nominal", "bandPosition": 1}, "y": {"field": "r", "type": "ordinal", "axis": null}, "text": {"field": "val"}}}
          ]
        }
      ],
      "resolve": {"scale": {"x": "independent"}}
    },
    {
      "width": 2080, "height": 311,
      "data": {"values": [{"k": 1}]},
      "layer": [
        {"mark": {"type": "rule", "color": "#2f4b7c", "strokeWidth": 3}, "encoding": {"x": {"datum": 0.0716, "type": "quantitative", "scale": {"domain": [0, 1], "nice": false, "zero": false}, "axis": null}, "x2": {"datum": 0.9327}, "y": {"datum": 0.0965, "type": "quantitative", "scale": {"domain": [0, 1], "nice": false, "zero": false, "reverse": true}, "axis": null}}},
        {"mark": {"type": "rule", "color": "#2f4b7c", "strokeWidth": 3}, "encoding": {"x": {"datum": 0.0716, "type": "quantitative", "scale": {"domain": [0, 1], "nice": false, "zero": false}, "axis": null}, "x2": {"datum": 0.9327}, "y": {"datum": 0.2894, "type": "quantitative", "scale": {"domain": [0, 1], "nice": false, "zero": false, "reverse": true}, "axis": null}}},
        {"mark": {"type": "text", "align": "left", "baseline": "middle", "font": "Noto Sans CJK SC", "fontSize": 43, "color": "#1f3864"}, "encoding": {"x": {"datum": 0.1245, "type": "quantitative", "scale": {"domain": [0, 1], "nice": false, "zero": false}, "axis": null}, "y": {"datum": 0.1961, "type": "quantitative", "scale": {"domain": [0, 1], "nice": false, "zero": false, "reverse": true}, "axis": null}, "text": {"value": "资料来源：首创期货研究院"}}},
        {"mark": {"type": "rect", "color": "#3d5f98"}, "encoding": {"x": {"datum": 0, "type": "quantitative", "scale": {"domain": [0, 1], "nice": false, "zero": false}, "axis": null}, "x2": {"datum": 0.3005}, "y": {"datum": 0.5531, "type": "quantitative", "scale": {"domain": [0, 1], "nice": false, "zero": false, "reverse": true}, "axis": null}, "y2": {"datum": 0.9260}}},
        {"mark": {"type": "rule", "color": "#4f81bd", "strokeWidth": 4}, "encoding": {"x": {"datum": 0.3005, "type": "quantitative", "scale": {"domain": [0, 1], "nice": false, "zero": false}, "axis": null}, "x2": {"datum": 0.9649}, "y": {"datum": 0.5595, "type": "quantitative", "scale": {"domain": [0, 1], "nice": false, "zero": false, "reverse": true}, "axis": null}}},
        {"mark": {"type": "rule", "color": "#8eaadb", "strokeWidth": 2}, "encoding": {"x": {"datum": 0, "type": "quantitative", "scale": {"domain": [0, 1], "nice": false, "zero": false}, "axis": null}, "x2": {"datum": 0.3005}, "y": {"datum": 0.7814, "type": "quantitative", "scale": {"domain": [0, 1], "nice": false, "zero": false, "reverse": true}, "axis": null}}},
        {"mark": {"type": "text", "align": "center", "baseline": "middle", "font": "Noto Sans CJK SC", "fontSize": 38, "color": "#ffffff"}, "encoding": {"x": {"datum": 0.1442, "type": "quantitative", "scale": {"domain": [0, 1], "nice": false, "zero": false}, "axis": null}, "y": {"datum": 0.7010, "type": "quantitative", "scale": {"domain": [0, 1], "nice": false, "zero": false, "reverse": true}, "axis": null}, "text": {"value": "期市有风险 投资需谨慎"}}},
        {"mark": {"type": "text", "align": "left", "baseline": "middle", "font": "Liberation Serif", "fontSize": 32, "color": "#ffffff"}, "encoding": {"x": {"datum": 0.0091, "type": "quantitative", "scale": {"domain": [0, 1], "nice": false, "zero": false}, "axis": null}, "y": {"datum": 0.8521, "type": "quantitative", "scale": {"domain": [0, 1], "nice": false, "zero": false, "reverse": true}, "axis": null}, "text": {"value": "9"}}},
        {"mark": {"type": "text", "align": "left", "baseline": "middle", "font": "Noto Sans CJK SC", "fontSize": 36, "fontWeight": "bold", "color": "#000000"}, "encoding": {"x": {"datum": 0.6380, "type": "quantitative", "scale": {"domain": [0, 1], "nice": false, "zero": false}, "axis": null}, "y": {"datum": 0.6720, "type": "quantitative", "scale": {"domain": [0, 1], "nice": false, "zero": false, "reverse": true}, "axis": null}, "text": {"value": "请仔细阅读本报告的免责声明"}}}
      ]
    }
  ]
}
